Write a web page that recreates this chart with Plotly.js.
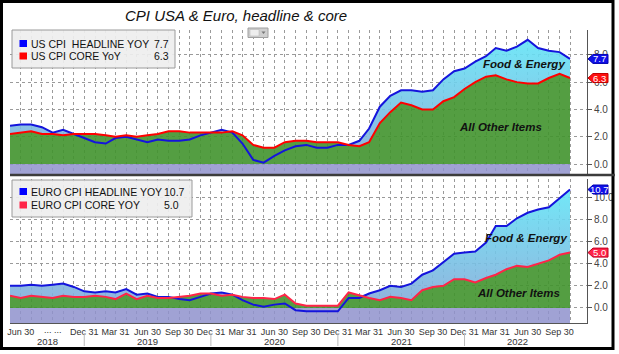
<!DOCTYPE html>
<html>
<head>
<meta charset="utf-8">
<script src="https://cdn.plot.ly/plotly-3.0.1.min.js"></script>
<style>
html,body{margin:0;padding:0;background:#fff;}
#chart{width:619px;height:354px;}
</style>
</head>
<body>
<div id="chart"></div>
<script>
// ---- data (monthly, May 2018 .. Oct 2022) ----
const startYear = 2018, startMonth = 5, nMonths = 54;
const usHeadline = [2.8,2.9,2.9,2.7,2.3,2.5,2.2,1.9,
  1.6,1.5,1.9,2.0,1.8,1.6,1.8,1.7,1.7,1.8,2.1,2.3,
  2.5,2.3,1.5,0.3,0.1,0.6,1.0,1.3,1.4,1.2,1.2,1.4,
  1.4,1.7,2.6,4.2,5.0,5.4,5.4,5.3,5.4,6.2,6.8,7.0,
  7.5,7.9,8.5,8.3,8.6,9.1,8.5,8.3,8.2,7.7];
const usCore = [2.2,2.3,2.4,2.2,2.2,2.1,2.2,2.2,
  2.2,2.1,2.0,2.1,2.0,2.1,2.2,2.4,2.4,2.3,2.3,2.3,
  2.3,2.4,2.1,1.4,1.2,1.2,1.6,1.7,1.7,1.6,1.6,1.6,
  1.4,1.3,1.6,3.0,3.8,4.5,4.3,4.0,4.0,4.6,4.9,5.5,
  6.0,6.4,6.5,6.2,6.0,5.9,5.9,6.3,6.6,6.3];
const euHeadline = [2.0,2.0,2.1,2.0,2.1,2.2,1.9,1.5,
  1.4,1.5,1.4,1.7,1.2,1.3,1.0,1.0,0.8,0.7,1.0,1.3,
  1.4,1.2,0.7,0.3,0.1,0.3,0.4,-0.2,-0.3,-0.3,-0.3,-0.3,
  0.9,0.9,1.3,1.6,2.0,1.9,2.2,3.0,3.4,4.1,4.9,5.0,
  5.1,5.9,7.4,7.4,8.1,8.6,8.9,9.1,9.9,10.7];
const euCore = [1.1,0.9,1.1,1.0,0.9,1.1,1.0,1.0,
  1.1,1.0,0.8,1.3,0.8,1.1,0.9,0.9,1.0,1.1,1.3,1.3,
  1.1,1.2,1.0,0.9,0.9,0.8,1.2,0.4,0.2,0.2,0.2,0.2,
  1.4,1.1,0.9,0.7,1.0,0.9,0.7,1.6,1.9,2.0,2.6,2.6,
  2.3,2.7,3.0,3.5,3.8,3.7,4.0,4.3,4.8,5.0];
const seriesNames = ['US CPI\u00a0 HEADLINE YOY','US CPI CORE YoY','EURO CPI HEADLINE YOY','EURO CPI CORE YOY'];
const quarterTicks = ['2018-06','2018-09','2018-12','2019-03','2019-06','2019-09','2019-12','2020-03','2020-06','2020-09','2020-12','2021-03','2021-06','2021-09','2021-12','2022-03','2022-06','2022-09'];
const quarterLabels = ['Jun 30','... ...','Dec 31','Mar 31','Jun 30','Sep 30','Dec 31','Mar 31','Jun 30','Sep 30','Dec 31','Mar 31','Jun 30','Sep 30','Dec 31','Mar 31','Jun 30','Sep 30'];
const years = ['2018','2019','2020','2021','2022'];
const panelLabels = ['Food &amp; Energy','All Other Items'];

// ---- helpers ----
const pad = n => (n<10?'0':'')+n;
const dates = [];
for (let i=0;i<nMonths;i++){ const m=startMonth-1+i; dates.push((startYear+Math.floor(m/12))+'-'+pad(m%12+1)+'-01'); }
const isDots = s => /^[.\s]+$/.test(s);
const ticktext = dates.map(d => { const k = quarterTicks.indexOf(d.slice(0,7)); return (k>=0 && !isDots(quarterLabels[k])) ? quarterLabels[k] : ''; });
const px2x = px => (px-10)/577;
const py2y = py => (323-py)/293;
const last = a => a[a.length-1];
const maxArr = (a,b) => a.map((v,i)=>Math.max(v,b[i]));
const midDate = (a,b) => new Date((new Date(a).getTime()+new Date(b).getTime())/2).toISOString().slice(0,10);

const TOP_RANGE = [-0.806, 9.82], BOT_RANGE = [-1.36, 11.65];
const GREEN = 'rgba(65,147,45,0.9)', BAND = 'rgba(143,146,204,0.85)';

function panel(h, c, yax, yBottom, redColor, gStop){
  return [
    {x:[dates[0], last(dates)], y:[yBottom, yBottom], yaxis:yax, mode:'lines', line:{width:0}, fill:'tozeroy', fillcolor:BAND, hoverinfo:'skip', showlegend:false},
    {x:dates, y:c, yaxis:yax, mode:'lines', line:{width:0}, fill:'tozeroy', fillcolor:GREEN, hoverinfo:'skip', showlegend:false},
    {x:dates, y:maxArr(h,c), yaxis:yax, mode:'lines', line:{width:0}, fill:'tonexty',
      fillgradient:{type:'vertical', start:0.5, stop:gStop, colorscale:[[0,'rgba(133,172,218,0.9)'],[1,'rgba(99,228,246,0.9)']]},
      hoverinfo:'skip', showlegend:false},
    {x:dates, y:h, yaxis:yax, mode:'lines', line:{color:'#1414dc', width:2}, showlegend:false},
    {x:dates, y:c, yaxis:yax, mode:'lines', line:{color:redColor, width:2}, showlegend:false}
  ];
}

const data = [].concat(
  panel(usHeadline, usCore, 'y', TOP_RANGE[0], '#ff0000', 9),
  panel(euHeadline, euCore, 'y2', BOT_RANGE[0], '#ff2448', 10.5)
);

const yBase = {side:'right', anchor:'x', dtick:2, tickformat:'.1f', showgrid:true, gridcolor:'#9a9a9a', griddash:'dot', gridwidth:1,
  zeroline:false, showline:true, linecolor:'#555', linewidth:1, ticks:'outside', ticklen:4, tickcolor:'#555',
  tickfont:{size:10, color:'#444'}, fixedrange:true};

const shapes = [], annotations = [];
function note(o){ annotations.push(Object.assign({showarrow:false, xanchor:'center', yanchor:'middle'}, o)); }
// outer frame
shapes.push({type:'rect', xref:'paper', yref:'paper', x0:px2x(1.5), x1:px2x(613), y0:py2y(1.5), y1:py2y(348.5), line:{color:'#000', width:3}});
// panel separator
shapes.push({type:'line', xref:'paper', yref:'paper', x0:px2x(10), x1:px2x(615), y0:py2y(175), y1:py2y(175), line:{color:'#3c3c3c', width:2.5}});
// small chart icon (button with dropdown)
shapes.push({type:'rect', xref:'paper', yref:'paper', x0:px2x(248), x1:px2x(268), y0:py2y(28), y1:py2y(37.5), fillcolor:'#cfcfcf', line:{color:'#a0a0a0', width:1}});
shapes.push({type:'rect', xref:'paper', yref:'paper', x0:px2x(250), x1:px2x(259), y0:py2y(29.5), y1:py2y(36), fillcolor:'#eeeeee', line:{color:'#b0b0b0', width:0.5}});
shapes.push({type:'path', xref:'paper', yref:'paper', path:'M'+px2x(261.5)+','+py2y(31.5)+' L'+px2x(265.5)+','+py2y(31.5)+' L'+px2x(263.5)+','+py2y(34)+' Z', fillcolor:'#777', line:{width:0}});
// title
note({xref:'paper', yref:'paper', x:px2x(236), y:py2y(16), text:'<i>CPI USA &amp; Euro, headline &amp; core</i>', font:{size:15, color:'#111'}});

// legends
function legendBox(x0, x1, y0, y1, rows, valX){
  shapes.push({type:'rect', xref:'paper', yref:'paper', x0:px2x(x0), x1:px2x(x1), y0:py2y(y0), y1:py2y(y1), fillcolor:'rgba(238,238,238,0.92)', line:{color:'#9a9a9a', width:1}});
  rows.forEach(r => {
    shapes.push({type:'rect', xref:'paper', yref:'paper', x0:px2x(19.5), x1:px2x(27), y0:py2y(r.y-3.5), y1:py2y(r.y+3.5), fillcolor:r.color, line:{width:0}});
    note({xref:'paper', yref:'paper', x:px2x(29), y:py2y(r.y), xanchor:'left', text:r.name, font:{size:10.5, color:'#111'}});
    note({xref:'paper', yref:'paper', x:px2x(valX), y:py2y(r.y), xanchor:'left', text:r.val.toFixed(1), font:{size:10.5, color:'#111'}});
  });
}
legendBox(12, 175, 30, 68, [{y:43.5, color:'#0000ff', name:seriesNames[0], val:last(usHeadline)}, {y:56, color:'#ff0000', name:seriesNames[1], val:last(usCore)}], 152);
legendBox(12, 192, 180, 217, [{y:191.5, color:'#0000ff', name:seriesNames[2], val:last(euHeadline)}, {y:205, color:'#ff2448', name:seriesNames[3], val:last(euCore)}], 162);

// right-side value tags
function tag(yref, val, fill, border){
  shapes.push({type:'path', xref:'paper', yref:yref, xsizemode:'pixel', ysizemode:'pixel', xanchor:1, yanchor:val,
    path:'M1,0 L6,4.5 L21,4.5 L21,-4.5 L6,-4.5 Z', fillcolor:fill, line:{color:border, width:1}});
  note({xref:'paper', yref:yref, x:px2x(599.5), y:val, text:val.toFixed(1), font:{size:9.5, color:'#fff'}});
}
tag('y', last(usHeadline), '#1010e8', '#0000b0');
tag('y', last(usCore), '#ff1010', '#c00000');
tag('y2', last(euHeadline), '#1010e8', '#0000b0');
tag('y2', last(euCore), '#ff2448', '#c00020');

// panel texts
const lblFont = {size:11.5, color:'#111'};
note({xref:'x', yref:'y', x:'2022-05-20', y:7.3, text:'<b><i>'+panelLabels[0]+'</i></b>', font:lblFont});
note({xref:'x', yref:'y', x:'2022-03-15', y:2.7, text:'<b><i>'+panelLabels[1]+'</i></b>', font:lblFont});
note({xref:'x', yref:'y2', x:'2022-05-28', y:6.3, text:'<b><i>'+panelLabels[0]+'</i></b>', font:lblFont});
note({xref:'x', yref:'y2', x:'2022-05-06', y:1.35, text:'<b><i>'+panelLabels[1]+'</i></b>', font:lblFont});

// placeholder quarter labels ("... ...") drawn as text under their ticks
quarterTicks.forEach((q,k) => { if (isDots(quarterLabels[k])) note({xref:'x', yref:'paper', x:q+'-01', y:py2y(330), text:quarterLabels[k].replace(' ','\u00a0'), font:{size:9, color:'#333'}}); });

// year labels and separators
const decs = years.slice(0,-1).map(y => y+'-12-01');
const bounds = [dates[0]].concat(decs).concat([last(dates)]);
years.forEach((y,i) => {
  note({xref:'x', yref:'paper', x:midDate(bounds[i], bounds[i+1]), y:py2y(341.5), text:y, font:{size:9.5, color:'#333'}});
});
decs.forEach(d => shapes.push({type:'line', xref:'x', yref:'paper', x0:d, x1:d, y0:py2y(333), y1:py2y(346), line:{color:'#bbbbbb', width:1}}));

const layout = {
  width:619, height:354, margin:{l:10, r:32, t:30, b:31},
  paper_bgcolor:'#fff', plot_bgcolor:'#fff',
  font:{family:'Liberation Sans, Arial, sans-serif', color:'#222'},
  showlegend:false,
  xaxis:{type:'date', anchor:'y2', range:['2018-05-01','2022-11-19'], tickmode:'array', tickvals:dates, ticktext:ticktext,
    ticks:'', showgrid:true, gridcolor:'#9a9a9a', griddash:'dot', gridwidth:1,
    showline:true, linecolor:'#555', tickfont:{size:9, color:'#333'}, tickangle:0, fixedrange:true},
  yaxis:Object.assign({}, yBase, {domain:[py2y(175), 1], range:TOP_RANGE}),
  yaxis2:Object.assign({}, yBase, {domain:[0, py2y(179)], range:BOT_RANGE}),
  shapes:shapes, annotations:annotations
};

Plotly.newPlot('chart', data, layout, {displayModeBar:false, staticPlot:true});
</script>
</body>
</html>
